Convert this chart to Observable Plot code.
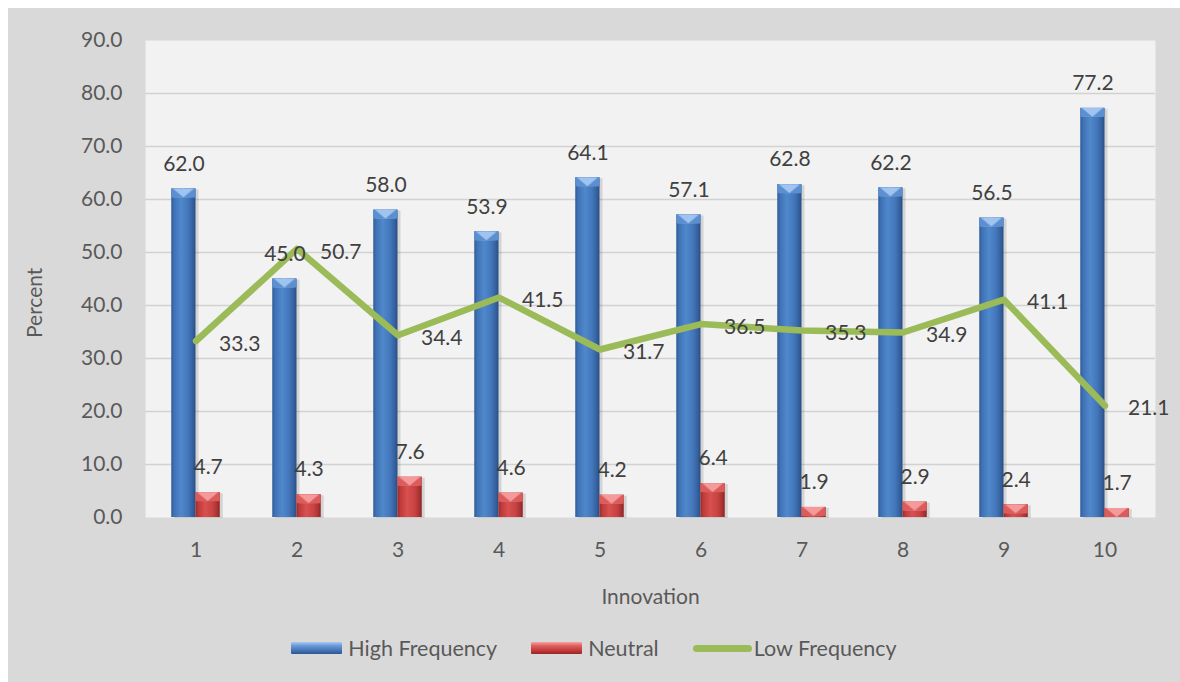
<!DOCTYPE html>
<html>
<head>
<meta charset="utf-8">
<script src="https://cdn.jsdelivr.net/npm/d3@7"></script>
<script src="https://cdn.jsdelivr.net/npm/@observablehq/plot@0.6"></script>
<style>
  html, body { margin: 0; padding: 0; background: #ffffff; }
  body { width: 1180px; height: 682px; position: relative; overflow: hidden; font-family: Lato, "Open Sans", sans-serif; }
  #panel { position: absolute; left: 8px; top: 8px; width: 1172px; height: 674px; background: #d9d9d9; }
  #chart { position: absolute; left: 0; top: 0; }
  #legend { position: absolute; left: 0; top: 627px; width: 1172px; display: flex; justify-content: center; align-items: center; font-size: 21.5px; color: #595959; }
  .item { display: flex; align-items: center; margin: 0 17px; }
  .sw { width: 51px; height: 12px; margin-right: 6px; border-radius: 1px; }
  .sw.blue { background: linear-gradient(to bottom, #a9c9f2 0%, #6c9bd8 30%, #3f6fb0 75%, #2a5590 100%); }
  .sw.red { background: linear-gradient(to bottom, #f5a3a3 0%, #de6262 30%, #bf3535 75%, #962525 100%); }
  .sw.green { width: 59px; height: 7px; background: #9bbb59; border-radius: 4px; margin-right: 2px; }
</style>
</head>
<body>
<div id="panel">
  <div id="chart"></div>
  <div id="legend">
    <div class="item"><div class="sw blue"></div><span>High Frequency</span></div>
    <div class="item"><div class="sw red"></div><span>Neutral</span></div>
    <div class="item"><div class="sw green"></div><span>Low Frequency</span></div>
  </div>
</div>
<script>
// Innovation survey: share of respondents per answer group, in percent
const categories = [1, 2, 3, 4, 5, 6, 7, 8, 9, 10];
const highFrequency = [62.0, 45.0, 58.0, 53.9, 64.1, 57.1, 62.8, 62.2, 56.5, 77.2];
const neutral = [4.7, 4.3, 7.6, 4.6, 4.2, 6.4, 1.9, 2.9, 2.4, 1.7];
const lowFrequency = [33.3, 50.7, 34.4, 41.5, 31.7, 36.5, 35.3, 34.9, 41.1, 21.1];
const yTicks = [0, 10, 20, 30, 40, 50, 60, 70, 80, 90];

const rows = categories.map((c, i) => ({
  c,
  high: highFrequency[i],
  neutral: neutral[i],
  low: lowFrequency[i]
}));

// each bar takes this fraction of a category slot, side by side around the centre
const bw = 0.24;
const labelColor = "#404040";

const chart = Plot.plot({
  width: 1172,
  height: 610,
  marginLeft: 137,
  marginRight: 25,
  marginTop: 32,
  marginBottom: 101,
  style: { fontFamily: "Lato, 'Open Sans', sans-serif", fontSize: "21px", color: "#595959", background: "transparent" },
  x: { type: "linear", domain: [0.5, 10.5] },
  y: { domain: [0, 90] },
  marks: [
    Plot.frame({ fill: "#f2f2f2", stroke: null }),
    Plot.gridY(yTicks.filter(v => v > 0 && v < 90), { stroke: "#d2d2d2", strokeOpacity: 1, strokeWidth: 1.6 }),
    // soft shadows to the right of the bars
    Plot.rectY(rows, { x1: d => d.c - bw, x2: d => d.c, y: "high", fill: "#000", fillOpacity: 0.12, dx: 3, dy: 1 }),
    Plot.rectY(rows, { x1: d => d.c, x2: d => d.c + bw, y: "neutral", fill: "#000", fillOpacity: 0.12, dx: 3, dy: 1 }),
    // cylinder bodies
    Plot.rectY(rows, { x1: d => d.c - bw, x2: d => d.c, y: "high", fill: "url(#bodyBlue)" }),
    Plot.rectY(rows, { x1: d => d.c, x2: d => d.c + bw, y: "neutral", fill: "url(#bodyRed)" }),
    // bevelled tops
    Plot.rect(rows, { x1: d => d.c - bw, x2: d => d.c, y1: "high", y2: "high", insetBottom: -9, fill: "url(#capBlue)" }),
    Plot.rect(rows, { x1: d => d.c, x2: d => d.c + bw, y1: "neutral", y2: "neutral", insetBottom: -9, fill: "url(#capRed)" }),
    // low frequency line
    Plot.line(rows, { x: "c", y: "low", stroke: "#9bbb59", strokeWidth: 6.5, strokeLinejoin: "round", strokeLinecap: "round" }),
    // axes
    Plot.axisY(yTicks, { tickSize: 0, tickPadding: 23, tickFormat: d => d.toFixed(1), label: null }),
    Plot.axisX(categories, { tickSize: 0, tickPadding: 25, tickFormat: d => String(d), label: null }),
    Plot.text(["Innovation"], { frameAnchor: "bottom", dy: 80, lineAnchor: "middle", fill: "#595959", fontSize: 21 }),
    Plot.text(["Percent"], { frameAnchor: "left", rotate: -90, dx: -110, dy: 59, lineAnchor: "middle", fill: "#595959", fontSize: 21 }),
    // value labels
    Plot.text(rows, { x: d => d.c - bw / 2, y: "high", text: d => d.high.toFixed(1), dy: -25, lineAnchor: "middle", fill: labelColor, fontSize: 21 }),
    Plot.text(rows, { x: d => d.c + bw / 2, y: "neutral", text: d => d.neutral.toFixed(1), dy: -25, lineAnchor: "middle", fill: labelColor, fontSize: 21 }),
    Plot.text(rows, { x: "c", y: "low", text: d => d.low.toFixed(1), dx: 23, dy: 3, textAnchor: "start", lineAnchor: "middle", fill: labelColor, fontSize: 21 })
  ]
});

// gradient and bevel definitions used by the bars
const ns = "http://www.w3.org/2000/svg";
const defs = document.createElementNS(ns, "defs");
function hGrad(id, stops) {
  const g = document.createElementNS(ns, "linearGradient");
  g.setAttribute("id", id);
  g.setAttribute("x1", "0"); g.setAttribute("x2", "1"); g.setAttribute("y1", "0"); g.setAttribute("y2", "0");
  for (const [o, c] of stops) {
    const s = document.createElementNS(ns, "stop");
    s.setAttribute("offset", o); s.setAttribute("stop-color", c);
    g.appendChild(s);
  }
  defs.appendChild(g);
}
hGrad("bodyBlue", [[0, "#2f5b97"], [0.12, "#3f72b6"], [0.4, "#5088cc"], [0.7, "#4376ba"], [0.9, "#335f9c"], [1, "#284d82"]]);
hGrad("bodyRed", [[0, "#9c2a2a"], [0.12, "#c03a3a"], [0.4, "#d85050"], [0.7, "#c94343"], [0.9, "#a83232"], [1, "#8a2323"]]);
function cap(id, base, light, edge) {
  const p = document.createElementNS(ns, "pattern");
  p.setAttribute("id", id);
  p.setAttribute("patternUnits", "objectBoundingBox");
  p.setAttribute("patternContentUnits", "objectBoundingBox");
  p.setAttribute("width", "1"); p.setAttribute("height", "1");
  const r = document.createElementNS(ns, "rect");
  r.setAttribute("width", "1"); r.setAttribute("height", "1"); r.setAttribute("fill", base);
  const e = document.createElementNS(ns, "polygon");
  e.setAttribute("points", "0,0 1,0 1,1 0,1");
  e.setAttribute("fill", edge);
  const t = document.createElementNS(ns, "polygon");
  t.setAttribute("points", "0.06,0 0.94,0 0.5,1");
  t.setAttribute("fill", light);
  p.appendChild(r); p.appendChild(e); p.appendChild(t);
  defs.appendChild(p);
}
cap("capBlue", "#4a7fc2", "#9fc4f0", "#5c8fd0");
cap("capRed", "#c94343", "#f49a9a", "#dc5c5c");
chart.insertBefore(defs, chart.firstChild);

document.getElementById("chart").appendChild(chart);
</script>
</body>
</html>
